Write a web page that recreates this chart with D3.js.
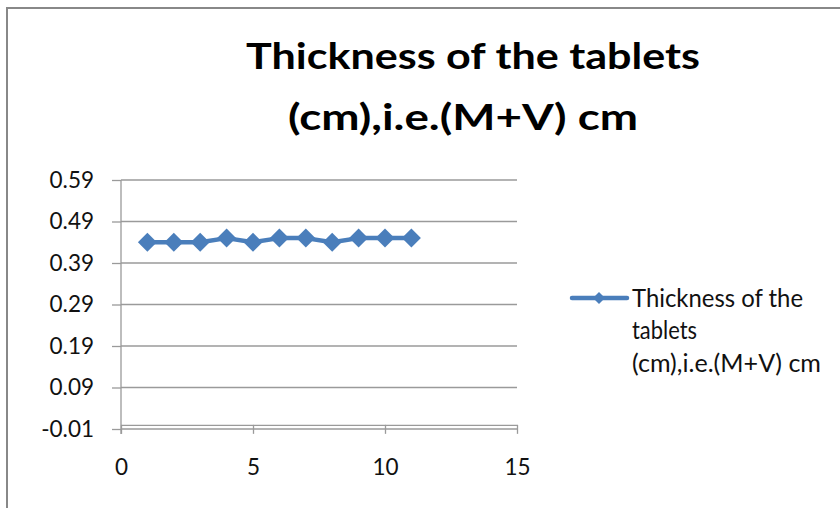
<!DOCTYPE html>
<html>
<head>
<meta charset="utf-8">
<script src="https://cdn.jsdelivr.net/npm/d3@7/dist/d3.min.js"></script>
<style>
  html, body { margin: 0; padding: 0; background: #fff; }
  svg { display: block; }
  text { font-family: Lato, "Open Sans", sans-serif; }
</style>
</head>
<body>
<svg id="chart" width="840" height="508"></svg>
<script>
// ---- data ----
const titleLines = ["Thickness of the tablets", "(cm),i.e.(M+V) cm"];
const seriesName = ["Thickness of the", "tablets", "(cm),i.e.(M+V) cm"];
const xValues = [1, 2, 3, 4, 5, 6, 7, 8, 9, 10, 11];
const yValues = [0.44, 0.44, 0.44, 0.45, 0.44, 0.45, 0.45, 0.44, 0.45, 0.45, 0.45];
const yTicks = [-0.01, 0.09, 0.19, 0.29, 0.39, 0.49, 0.59];
const yTickLabels = ["-0.01", "0.09", "0.19", "0.29", "0.39", "0.49", "0.59"];
const xTicks = [0, 5, 10, 15];

const svg = d3.select("#chart");
const blue = "#4a7ebb";
const grid = "#9a9a9a";

// outer border (chart area extends past the window on right/bottom)
svg.append("rect").attr("x", 7).attr("y", 8).attr("width", 900).attr("height", 600)
  .attr("fill", "#fff").attr("stroke", "#888").attr("stroke-width", 2);

const x = d3.scaleLinear().domain([0, 15]).range([121, 517]);
const y = d3.scaleLinear().domain([-0.01, 0.59]).range([429, 180]);

// title
const titleWidths = [454, 350];
const titleX = [473, 463];
const titleY = [69, 130];
titleLines.forEach((t, i) => {
  svg.append("text").attr("x", titleX[i]).attr("y", titleY[i])
    .attr("text-anchor", "middle").attr("font-weight", 700).attr("font-size", 37)
    .attr("fill", "#000").attr("textLength", titleWidths[i]).attr("lengthAdjust", "spacingAndGlyphs")
    .text(t);
});

// horizontal gridlines
svg.append("g").selectAll("line").data(yTicks).join("line")
  .attr("x1", x(0)).attr("x2", x(15))
  .attr("y1", d => y(d)).attr("y2", d => y(d))
  .attr("stroke", grid).attr("stroke-width", 1.3);

// y axis
const yAxis = svg.append("g").attr("transform", `translate(${x(0)},0)`)
  .call(d3.axisLeft(y).tickValues(yTicks).tickSize(9).tickPadding(18)
    .tickFormat((d, i) => yTickLabels[i]));
yAxis.select(".domain").attr("stroke", grid).attr("stroke-width", 1.3)
  .attr("d", `M0,${y(0.59)}V${y(-0.01) + 5}`);
yAxis.selectAll(".tick line").attr("stroke", grid).attr("stroke-width", 1.3);
yAxis.selectAll(".tick text").attr("font-size", 22.5).attr("fill", "#111")
  .attr("font-family", "Lato, 'Open Sans', sans-serif");

// x axis at y = 0
const xAxis = svg.append("g").attr("transform", `translate(0,${y(0)})`)
  .call(d3.axisBottom(x).tickValues(xTicks).tickSize(9).tickPadding(25).tickSizeOuter(0));
xAxis.select(".domain").attr("stroke", grid).attr("stroke-width", 1.3);
xAxis.selectAll(".tick line").attr("stroke", grid).attr("stroke-width", 1.3);
xAxis.selectAll(".tick text").attr("font-size", 22.5).attr("fill", "#111")
  .attr("font-family", "Lato, 'Open Sans', sans-serif");

// series line
const line = d3.line().x((d, i) => x(xValues[i])).y(d => y(d));
svg.append("path").datum(yValues).attr("d", line)
  .attr("fill", "none").attr("stroke", blue).attr("stroke-width", 4.5)
  .attr("stroke-linejoin", "round");

// markers (diamonds)
const diamond = d3.symbol().type(d3.symbolSquare).size(180);
svg.append("g").selectAll("path").data(yValues).join("path")
  .attr("d", diamond)
  .attr("transform", (d, i) => `translate(${x(xValues[i])},${y(d)}) rotate(45)`)
  .attr("fill", blue);

// legend
const lg = svg.append("g");
lg.append("line").attr("x1", 572).attr("x2", 627).attr("y1", 298).attr("y2", 298)
  .attr("stroke", blue).attr("stroke-width", 4.5).attr("stroke-linecap", "round");
lg.append("path").attr("d", d3.symbol().type(d3.symbolSquare).size(72))
  .attr("transform", "translate(599,298) rotate(45)").attr("fill", blue);
const legendWidths = [171, 65, 189];
const legendY = [307, 339, 372];
seriesName.forEach((t, i) => {
  lg.append("text").attr("x", 632).attr("y", legendY[i])
    .attr("font-size", 24.5).attr("fill", "#111")
    .attr("textLength", legendWidths[i]).attr("lengthAdjust", "spacingAndGlyphs")
    .text(t);
});
</script>
</body>
</html>
